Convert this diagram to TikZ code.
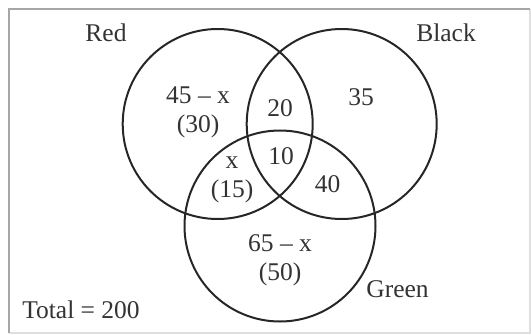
\documentclass[tikz,border=0pt]{standalone}
\usepackage{fontspec}
\setmainfont{Liberation Serif}
\usepackage{tikz}
\usetikzlibrary{positioning}
\tikzset{
  ring/.style={draw=black!85,line width=2pt},
  lbl/.style={font=\fontsize{25.5}{29}\selectfont,inner sep=0pt,align=center,text=black!80},
  marco/.style={line width=2.2pt}
}

\begin{document}
\begin{tikzpicture}[x=1pt,y=-1pt]
\useasboundingbox (0,0) rectangle (531,335);
% marco
\draw[marco,gray!25] (530,9)--(530,333)--(9,333);
\draw[marco,gray!70] (9,333)--(9,9)--(530,9);
% centros
\coordinate (cR) at (217.7,124);
\coordinate (cB) at (341.7,124);
\coordinate (cG) at (280,226);
\draw[ring] (cR) circle (95);
\draw[ring] (cB) circle (95);
\draw[ring] (cG) circle (95.5);
% nombres
\node[lbl] (nR) at (106,33) {Red};
\node[lbl] (nB) at (446,33) {Black};
\node[lbl] (nG) at (397.5,289) {Green};
\node[lbl] (tot) at (81,310) {Total = 200};
% regiones
\node[lbl] (sR) at (198,112) {45 – x\\(30)};
\node[lbl] (sRB) at (280,108) {20};
\node[lbl] (sB) at (361,97) {35};
\node[lbl] (sRBG) at (281,156) {10};
\node[lbl] (sRG) at (232,180) {x\\(15)};
\node[lbl] (sBG) at (327.5,184) {40};
\node[lbl] (sG) at (280,260) {65 – x\\(50)};
\end{tikzpicture}
\end{document}
